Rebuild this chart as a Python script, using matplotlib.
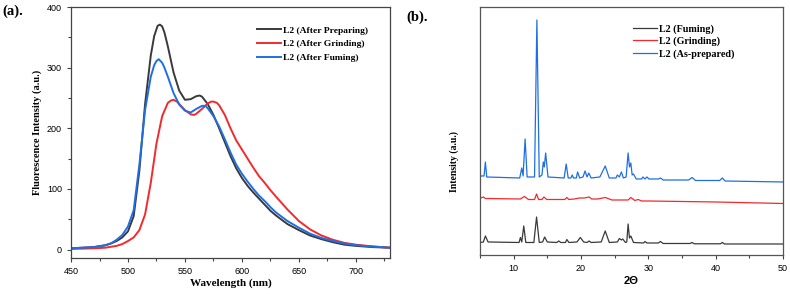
"""Fluorescence spectra and XRD patterns of L2"""

import matplotlib
matplotlib.use('Agg')
import matplotlib.pyplot as plt
from matplotlib.ticker import MultipleLocator

# (a) fluorescence spectra
wl_prep = [450, 460, 470, 480, 485, 490, 495, 500, 505, 510, 515, 520, 523, 526, 528, 530,
           532, 535, 540, 545, 550, 555, 560, 563, 565, 570, 575, 580, 585, 590, 595, 600,
           605, 610, 615, 620, 625, 630, 640, 650, 660, 670, 680, 690, 700, 715, 730]
fl_prep = [2, 3, 4, 7, 10, 14, 20, 30, 55, 130, 240, 320, 352, 369, 371, 368,
           358, 335, 292, 262, 247, 248, 253, 254, 252, 240, 222, 200, 177, 154, 134, 118,
           105, 94, 84, 74, 64, 56, 42, 32, 23, 17, 12, 8, 6, 4, 3]

wl_grind = [450, 470, 480, 490, 495, 500, 505, 510, 515, 520, 525, 530, 535, 538, 540, 543,
            545, 550, 555, 558, 560, 565, 570, 573, 575, 578, 580, 585, 590, 595, 600, 605,
            610, 615, 620, 625, 630, 640, 650, 660, 670, 680, 690, 700, 715, 730]
fl_grind = [1, 2, 3, 6, 9, 14, 20, 32, 58, 110, 175, 220, 242, 246, 247, 244,
            240, 230, 223, 222, 224, 232, 241, 244, 244, 242, 238, 222, 200, 180, 165, 150,
            135, 121, 110, 98, 87, 66, 47, 33, 23, 16, 11, 8, 5, 3]

wl_fume = [450, 460, 470, 480, 485, 490, 495, 500, 505, 510, 515, 520, 523, 525, 527, 530,
           532, 535, 540, 545, 550, 555, 560, 565, 568, 570, 575, 580, 585, 590, 595, 600,
           605, 610, 615, 620, 625, 630, 640, 650, 660, 670, 680, 690, 700, 715, 730]
fl_fume = [2, 3, 4, 7, 10, 16, 24, 38, 65, 140, 230, 285, 304, 311, 314, 308,
           300, 285, 258, 239, 229, 226, 232, 237, 237, 233, 220, 203, 182, 160, 140, 125,
           112, 100, 89, 80, 70, 61, 47, 36, 26, 19, 14, 10, 7, 5, 3]

# (b) XRD patterns (offset traces, arbitrary units)
tth_fume = [5.1, 5.5, 5.8, 6.2, 10.8, 11.0, 11.2, 11.5, 11.8, 13.0, 13.4, 13.8,
            14.3, 14.6, 15.0, 16.4, 16.7, 17.0, 17.7, 17.9, 18.2, 19.4, 19.9, 20.4,
            20.9, 21.2, 21.5, 23.0, 23.6, 24.2, 25.4, 25.7, 26.0, 26.2, 26.6,
            26.8, 27.0, 27.2, 27.4, 27.8, 29.3, 29.5, 29.8, 31.5, 31.8, 32.2,
            36.2, 36.5, 36.8, 40.7, 41.0, 41.3, 50.0]
xrd_fume = [12.5, 13, 19, 13, 12.5, 17.5, 13, 29, 12.5, 12.5, 38, 12.5,
            13, 18, 13, 12.5, 14, 12.5, 12.5, 15.5, 12.5, 13, 17.5, 13,
            12.5, 14, 12.5, 13, 24, 12.5, 13, 16.5, 15, 16, 12.5,
            13, 31, 17, 19, 12.5, 12, 13.5, 12, 12, 13.5, 11.5,
            11.5, 12.5, 11.2, 11.2, 12.5, 11, 11]

tth_grind = [5.1, 5.5, 5.8, 11.0, 11.6, 12.2, 13.1, 13.4, 13.7, 14.2, 14.5, 14.9,
             17.6, 17.9, 18.2, 19.0, 19.8, 20.5, 21.2, 21.6, 22.5, 23.6, 24.6,
             27.0, 27.4, 28.0, 28.5, 29.0, 30.0, 40.0, 50.0]
xrd_grind = [57, 58, 56.5, 56, 58.5, 55.5, 55.5, 61, 55.5, 55.5, 58, 55.5,
             55.5, 57.5, 55.5, 56, 57, 57, 58, 56, 56, 57.5, 55,
             55, 57.5, 54.5, 55.5, 54, 54, 53, 51.5]

tth_prep = [5.1, 5.6, 5.8, 6.0, 10.9, 11.2, 11.4, 11.7, 12.0, 13.1, 13.45, 13.8,
            14.2, 14.4, 14.55, 14.75, 15.1, 17.5, 17.8, 18.1, 18.5, 18.7, 18.9,
            19.3, 19.5, 19.8, 20.3, 20.6, 20.9, 21.15, 21.5, 22.8, 23.6, 24.2,
            25.2, 25.4, 25.7, 26.0, 26.3, 26.7, 27.0, 27.2, 27.4, 27.6, 27.8, 28.2,
            29.0, 29.2, 29.5, 29.8, 30.1, 31.5, 31.8, 32.2, 36.0, 36.5, 37.0,
            40.6, 41.0, 41.4, 50.0]
xrd_prep = [79, 79, 93, 78, 77, 87, 79, 116, 78, 78, 235, 78,
            80, 93, 88, 102, 78, 77, 91, 77, 77, 80, 77,
            77, 83, 77, 78, 84, 78, 82, 77, 78, 89, 77,
            77, 80, 78, 83, 77, 78, 102, 88, 92, 80, 81, 76,
            76, 78, 76, 78, 76, 76, 77, 75, 75, 77.5, 74.5,
            74.5, 77, 74, 73]

BLACK = '#3a3a3a'
RED = '#f5292b'
BLUE = '#1f6fe3'
SERIF = ['Liberation Serif', 'DejaVu Serif']
SANS = ['Liberation Sans', 'DejaVu Sans']

fig = plt.figure(figsize=(7.9, 2.94), dpi=100)

# (a)
ax = fig.add_axes([0.0899, 0.1224, 0.4038, 0.8537])
ax.plot(wl_prep, fl_prep, color=BLACK, lw=1.4, label='L2 (After Preparing)')
ax.plot(wl_grind, fl_grind, color=RED, lw=1.4, label='L2 (After Grinding)')
ax.plot(wl_fume, fl_fume, color=BLUE, lw=1.4, label='L2 (After Fuming)')
ax.set_xlim(450, 730)
ax.set_ylim(-14, 400)
ax.xaxis.set_major_locator(MultipleLocator(50))
ax.xaxis.set_minor_locator(MultipleLocator(25))
ax.yaxis.set_major_locator(MultipleLocator(100))
ax.yaxis.set_minor_locator(MultipleLocator(50))
ax.tick_params(which='both', direction='out', labelsize=6.5, color='#444444', width=0.8)
ax.tick_params(which='major', length=3)
ax.tick_params(which='minor', length=2)
for lab in ax.get_xticklabels() + ax.get_yticklabels():
    lab.set_family(SANS)
for sp in ax.spines.values():
    sp.set_color('#444444')
    sp.set_linewidth(0.9)
ax.set_xlabel('Wavelength (nm)', family=SERIF, fontweight='bold', fontsize=8, labelpad=2)
ax.set_ylabel('Fluorescence Intensity (a.u.)', family=SERIF, fontweight='bold',
              fontsize=7.5)
ax.yaxis.set_label_coords(-0.09, 0.5)
ax.legend(loc='upper left', frameon=False, prop={'family': SERIF, 'weight': 'bold', 'size': 6.8},
          handlelength=2.6, handletextpad=0.2, labelspacing=0.55,
          bbox_to_anchor=(0.555, 0.958))

# (b)
bx = fig.add_axes([0.6076, 0.1327, 0.3835, 0.8435])
bx.plot(tth_fume, xrd_fume, color=BLACK, lw=0.9, label='L2 (Fuming)')
bx.plot(tth_grind, xrd_grind, color=RED, lw=0.9, label='L2 (Grinding)')
bx.plot(tth_prep, xrd_prep, color=BLUE, lw=0.9, label='L2 (As-prepared)')
bx.set_xlim(5, 50)
bx.set_ylim(0, 248)
bx.set_yticks([])
bx.xaxis.set_major_locator(MultipleLocator(10))
bx.xaxis.set_minor_locator(MultipleLocator(5))
bx.tick_params(which='both', direction='out', labelsize=6.5, color='#444444', width=0.8)
bx.tick_params(which='major', length=3)
bx.tick_params(which='minor', length=2)
for lab in bx.get_xticklabels():
    lab.set_family(SANS)
for sp in bx.spines.values():
    sp.set_color('#555555')
    sp.set_linewidth(0.9)
bx.set_xlabel('2Θ', family=SANS, fontweight='bold', fontsize=8, labelpad=2)
bx.set_ylabel('Intensity (a.u.)', family=SERIF, fontweight='bold', fontsize=7)
bx.yaxis.set_label_coords(-0.07, 0.375)
bx.legend(loc='upper left', frameon=False, prop={'family': SERIF, 'weight': 'bold', 'size': 7.3},
          handlelength=2.4, handletextpad=0.2, labelspacing=0.29,
          bbox_to_anchor=(0.475, 0.968))

fig.text(0.003, 0.962, '(a).', family=SERIF, fontweight='bold', fontsize=10.5, va='center')
fig.text(0.515, 0.94, '(b).', family=SERIF, fontweight='bold', fontsize=10.5, va='center')

fig.savefig('out.png', dpi=100)
